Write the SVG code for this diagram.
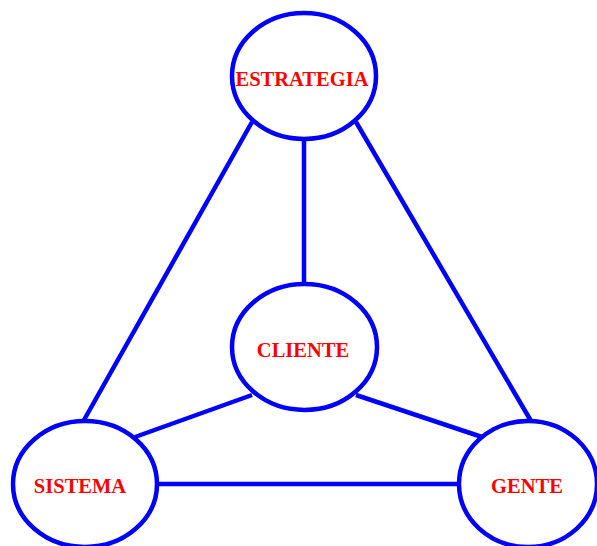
<svg xmlns="http://www.w3.org/2000/svg" width="597" height="546" viewBox="0 0 597 546">
  <style>
    .node ellipse { fill: #ffffff; stroke: #0000ff; stroke-width: 4.5; }
    .node text { font-family: "Liberation Serif", "Times New Roman", serif; font-weight: bold; font-size: 20.5px; fill: #ff0000; text-anchor: middle; }
    .edge { stroke: #0000ff; stroke-width: 4.5; fill: none; }
  </style>
  <rect width="597" height="546" fill="#ffffff"/>
  <g id="connectors">
    <line class="edge" x1="304" y1="138" x2="304" y2="285"/>
    <line class="edge" x1="252" y1="122" x2="84" y2="420"/>
    <line class="edge" x1="356" y1="122" x2="531" y2="421"/>
    <line class="edge" x1="252" y1="395" x2="135" y2="437"/>
    <line class="edge" x1="356" y1="395" x2="482" y2="437"/>
    <line class="edge" x1="157" y1="484" x2="460" y2="484"/>
  </g>
  <g id="estrategia" class="node">
    <ellipse cx="304" cy="76" rx="72" ry="63"/>
    <text x="302" y="86">ESTRATEGIA</text>
  </g>
  <g id="cliente" class="node">
    <ellipse cx="304.5" cy="347" rx="72.5" ry="63"/>
    <text x="303" y="357">CLIENTE</text>
  </g>
  <g id="sistema" class="node">
    <ellipse cx="85" cy="484" rx="72" ry="63"/>
    <text x="80" y="493">SISTEMA</text>
  </g>
  <g id="gente" class="node">
    <ellipse cx="528" cy="484" rx="69" ry="63"/>
    <text x="527" y="493">GENTE</text>
  </g>
</svg>
